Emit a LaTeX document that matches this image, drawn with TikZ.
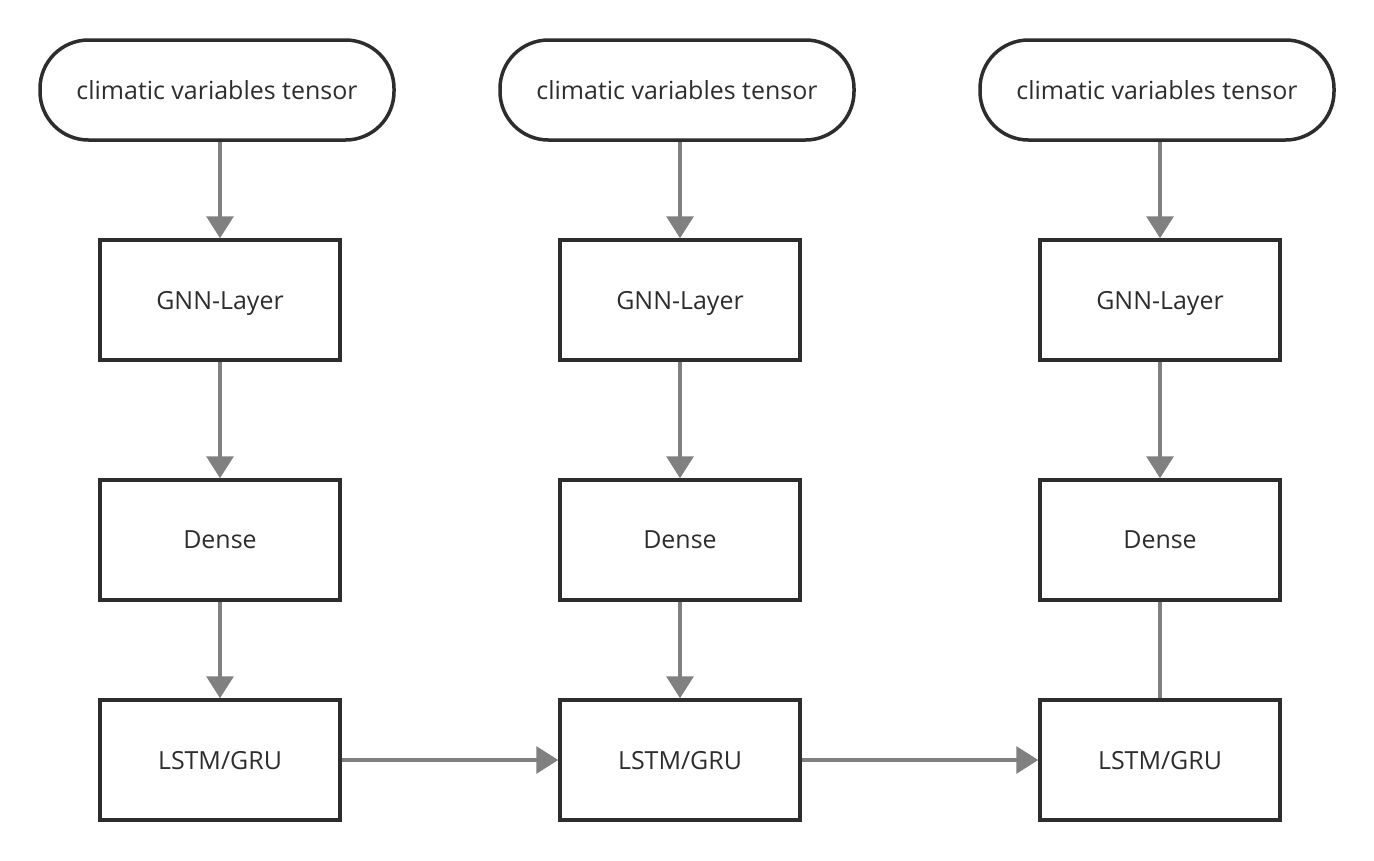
\documentclass[tikz,border=0pt]{standalone}
\usepackage{fontspec}
\setmainfont{Open Sans}
\usetikzlibrary{positioning,arrows.meta}
\definecolor{edgegray}{RGB}{45,45,45}
\definecolor{arrowgray}{RGB}{128,128,128}
\tikzset{
    blk/.style={draw=edgegray, line width=0.07cm, minimum width=4.8cm, minimum height=2.4cm, text=edgegray, text depth=0pt, font=\fontsize{14.2}{16}\selectfont},
    pill/.style={draw=edgegray, line width=0.07cm, rounded corners=0.97cm, minimum width=7.08cm, minimum height=2cm, text=edgegray, text depth=0pt, font=\fontsize{14.2}{16}\selectfont},
    flow/.style={draw=arrowgray, line width=0.065cm, -{Triangle[width=0.54cm,length=0.44cm]}},
    link/.style={draw=arrowgray, line width=0.065cm}
}

\begin{document}
\begin{tikzpicture}
    \useasboundingbox (0,0) rectangle (27.48,-17.2);
    \node[blk] (gnn1) at (4.4,-6) {GNN-Layer};
    \node[blk, below = 2.33cm of gnn1] (dense1) {Dense};
    \node[blk, below = 1.93cm of dense1] (lstm1) {LSTM/GRU};
    \node[pill, above = 1.93cm of gnn1, xshift=-0.06cm] (in1) {climatic variables tensor};

    \node[blk, right = 4.33cm of lstm1] (lstm2) {LSTM/GRU};
    \node[blk, above = 1.93cm of lstm2] (dense2) {Dense};
    \node[blk, above = 2.33cm of dense2] (gnn2) {GNN-Layer};
    \node[pill, above = 1.93cm of gnn2, xshift=-0.06cm] (in2) {climatic variables tensor};

    \node[blk, right = 4.73cm of lstm2] (lstm3) {LSTM/GRU};
    \node[blk, above = 1.93cm of lstm3] (dense3) {Dense};
    \node[blk, above = 2.33cm of dense3] (gnn3) {GNN-Layer};
    \node[pill, above = 1.93cm of gnn3, xshift=-0.06cm] (in3) {climatic variables tensor};

    \foreach \i in {1,2,3} {
        \draw[flow] (gnn\i.north |- in\i.south) -- (gnn\i.north);
        \draw[flow] (gnn\i) -- (dense\i);
    }
    \draw[flow] (dense1) -- (lstm1);
    \draw[flow] (dense2) -- (lstm2);
    \draw[link] (dense3) -- (lstm3);
    \draw[flow] (lstm1) -- (lstm2);
    \draw[flow] (lstm2) -- (lstm3);
\end{tikzpicture}
\end{document}
